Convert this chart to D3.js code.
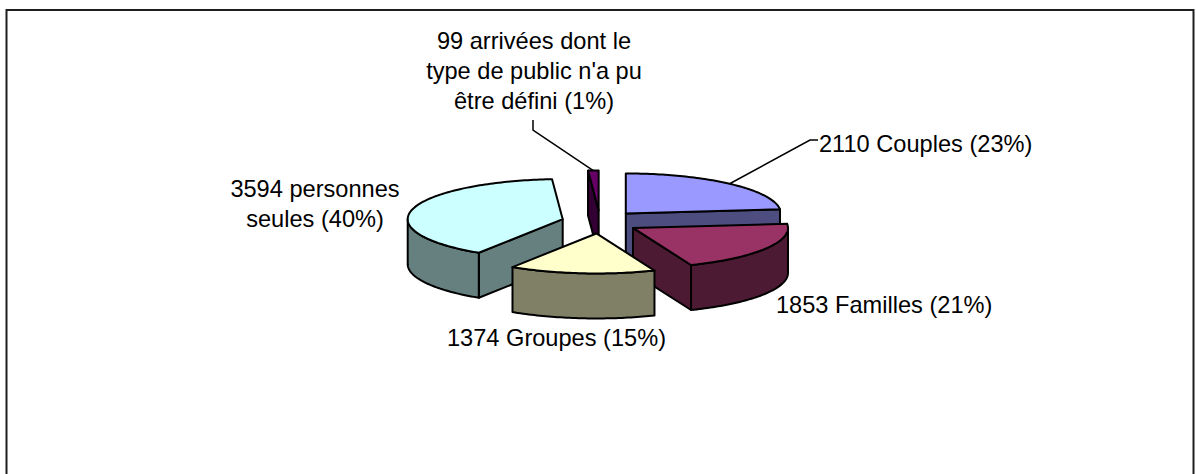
<!DOCTYPE html>
<html>
<head>
<meta charset="utf-8">
<script src="https://cdn.jsdelivr.net/npm/d3@7"></script>
<style>
  body { margin: 0; background: #fff; }
  text { font-family: "Liberation Sans", Arial, sans-serif; font-size: 23.6px; fill: #000; }
</style>
</head>
<body>
<svg id="chart" width="1196" height="474"></svg>
<script>
// Arrivals by type of public
const categories = ["Couples", "Familles", "Groupes", "personnes seules", "non défini"];
const values = [2110, 1853, 1374, 3594, 99];
// label lines; {v} = count, {p} = rounded share
const labelLines = [
  ["{v} Couples ({p}%)"],
  ["{v} Familles ({p}%)"],
  ["{v} Groupes ({p}%)"],
  ["{v} personnes", "seules ({p}%)"],
  ["{v} arrivées dont le", "type de public n'a pu", "être défini ({p}%)"]
];
const topColors = ["#9999FF", "#993366", "#FFFFCC", "#CCFFFF", "#660066"];
const sideColors = ["#4D4D80", "#4D1A33", "#808066", "#668080", "#330033"];

// layout
const W = 1196, H = 474;
const cx = 600, cy = 222;          // pie centre on screen
const rx = 155, ry = 40;           // ellipse radii of the tilted disc
const depth = 45;                  // thickness of the disc
const explodeX = 38.5, explodeY = 11.5;
const labelAnchor = [
  { x: 819, y: 152, anchor: "start" },
  { x: 776, y: 313, anchor: "start" },
  { x: 447, y: 346, anchor: "start" },
  { x: 315, y: 197, anchor: "middle" },
  { x: 534, y: 49, anchor: "middle" }
];
const lineGap = 30;
// elbow points of leader lines (slice index -> points after the slice anchor)
const leaders = {
  0: [[810, 140], [818, 140]],
  4: [[533, 130], [533, 120]]
};

const svg = d3.select("#chart");

svg.append("rect")
  .attr("x", 6.5).attr("y", 10)
  .attr("width", 1187).attr("height", 520)
  .attr("fill", "none").attr("stroke", "#1e1e1e").attr("stroke-width", 2);

const total = d3.sum(values);
const pie = d3.pie().sort(null).value(d => d)
  .startAngle(0).endAngle(2 * Math.PI);
const arcs = pie(values).map((d, i) => {
  const mid = (d.startAngle + d.endAngle) / 2;
  return {
    i, s: d.startAngle, e: d.endAngle, mid,
    ox: cx + explodeX * Math.sin(mid),
    oy: cy - explodeY * Math.cos(mid)
  };
});

// projected point on the disc rim at angle a (clockwise from 12 o'clock)
const rim = (a, ox, oy, dz = 0) => [ox + rx * Math.sin(a), oy - ry * Math.cos(a) + dz];
const sample = (a0, a1) => {
  const n = Math.max(2, Math.ceil(Math.abs(a1 - a0) / 0.02));
  return d3.range(n + 1).map(k => a0 + (a1 - a0) * k / n);
};
const line = d3.line().curve(d3.curveLinear);

function drawSlice(g, d) {
  const { s, e, ox, oy, i } = d;
  const stroke = "#000", sw = 2;

  // radial cut faces facing the viewer
  [[s, s - Math.PI / 2], [e, e + Math.PI / 2]].forEach(([a, n]) => {
    if (Math.cos(n) < -1e-6) {
      const p = rim(a, ox, oy), pb = rim(a, ox, oy, depth);
      g.append("path")
        .attr("d", line([[ox, oy], p, pb, [ox, oy + depth]]) + "Z")
        .attr("fill", sideColors[i]).attr("stroke", stroke)
        .attr("stroke-width", sw).attr("stroke-linejoin", "round");
    }
  });

  // curved outer wall on the front half
  const a0 = Math.max(s, Math.PI / 2), a1 = Math.min(e, 3 * Math.PI / 2);
  if (a1 > a0) {
    const angs = sample(a0, a1);
    const pts = angs.map(a => rim(a, ox, oy))
      .concat(angs.slice().reverse().map(a => rim(a, ox, oy, depth)));
    g.append("path")
      .attr("d", line(pts) + "Z")
      .attr("fill", sideColors[i]).attr("stroke", stroke)
      .attr("stroke-width", sw).attr("stroke-linejoin", "round");
  }

  // top face
  const topPts = [[ox, oy]].concat(sample(s, e).map(a => rim(a, ox, oy)));
  g.append("path")
    .attr("d", line(topPts) + "Z")
    .attr("fill", topColors[i]).attr("stroke", stroke)
    .attr("stroke-width", sw).attr("stroke-linejoin", "round");
}

const gPie = svg.append("g");
arcs.slice()
  .sort((a, b) => (-Math.cos(a.mid)) - (-Math.cos(b.mid)))
  .forEach(d => drawSlice(gPie.append("g"), d));

// leader lines
Object.entries(leaders).forEach(([k, pts]) => {
  const d = arcs[+k];
  const start = rim(d.mid, d.ox, d.oy);
  svg.append("path")
    .attr("d", line([start].concat(pts)))
    .attr("fill", "none").attr("stroke", "#000").attr("stroke-width", 1.5);
});

// labels
arcs.forEach(d => {
  const pct = Math.round(values[d.i] / total * 100);
  const pos = labelAnchor[d.i];
  const t = svg.append("text")
    .attr("x", pos.x).attr("y", pos.y)
    .attr("text-anchor", pos.anchor);
  labelLines[d.i].forEach((ln, j) => {
    t.append("tspan")
      .attr("x", pos.x)
      .attr("y", pos.y + j * lineGap)
      .text(ln.replace("{v}", values[d.i]).replace("{p}", pct));
  });
});
</script>
</body>
</html>
